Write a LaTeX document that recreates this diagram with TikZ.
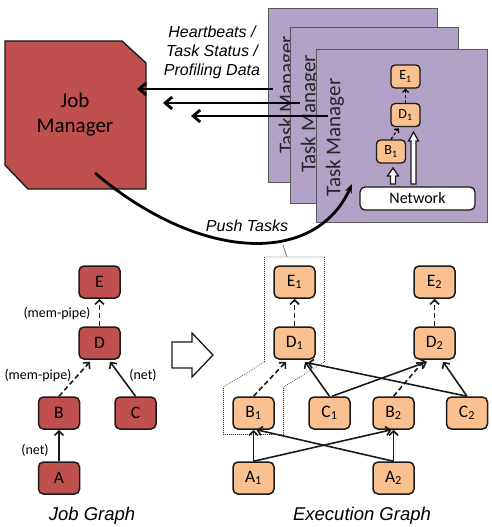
\documentclass[tikz,border=0pt]{standalone}
\usepackage{fontspec}
\setmainfont{Carlito}
\newfontfamily\hel{Liberation Sans}
\usetikzlibrary{arrows.meta,calc}
\definecolor{jred}{HTML}{C0504D}
\definecolor{eorange}{HTML}{FAC090}
\definecolor{tmpurple}{HTML}{B3A2C7}
\definecolor{edgecol}{HTML}{1A1A1A}
\begin{document}
\begin{tikzpicture}[x=1pt,y=-1pt,
  gnode/.style={draw=edgecol, fill=jred, rounded corners=5pt, minimum width=41pt, minimum height=32pt, line width=1.5pt, inner sep=0pt, font=\fontsize{17.5}{17.5}\selectfont},
  enode/.style={gnode, fill=eorange},
  mnode/.style={draw=edgecol, fill=eorange, rounded corners=4pt, minimum width=29pt, minimum height=23pt, line width=1.3pt, inner sep=0pt, font=\fontsize{14}{14}\selectfont},
  tmbox/.style={draw=black!65, fill=tmpurple, line width=0.8pt, inner sep=0pt},
  tmtext/.style={rotate=90, font=\fontsize{21}{21}\selectfont, text=black!85},
  arr/.style={-{Straight Barb[length=4.5pt,width=9pt]}, line width=1.6pt, draw=edgecol},
  darr/.style={arr, dash pattern=on 5pt off 3pt},
  hbarr/.style={-{Straight Barb[length=7pt,width=12pt]}, line width=2.8pt},
  lbl/.style={font=\fontsize{14}{14}\selectfont},
  itl/.style={font=\hel\itshape\fontsize{16}{19}\selectfont},
  captext/.style={font=\hel\itshape\fontsize{18.5}{18.5}\selectfont},
  hollow/.style={draw=edgecol, fill=white, line width=1.3pt, line join=miter}
]
\useasboundingbox (0,0) rectangle (492,527);

% ---------- Job Manager ----------
\draw[fill=jred, draw=edgecol, line width=1.4pt] (5,41) -- (122,41) -- (146,63) -- (146,189) -- (28,189) -- (5,165) -- cycle;
\node[align=center, font=\fontsize{21}{25}\selectfont] (jm) at (75,115) {Job\\Manager};

% ---------- Task Managers ----------
\node[tmbox, minimum width=169pt, minimum height=174pt] (tmA) at (352.5,95) {};
\node[tmtext] (tmAt) at (288,95) {Task Manager};
\node[tmbox, minimum width=168pt, minimum height=176pt] (tmB) at (374,115) {};
\node[tmtext] (tmBt) at (310,114) {Task Manager};
\node[tmbox, minimum width=171pt, minimum height=173pt] (tmC) at (401.5,135.5) {};
\node[tmtext] (tmCt) at (335,137.5) {Task Manager};

% inner task graph
\node[mnode] (mE) at (405.5,76.5) {E\textsubscript{1}};
\node[mnode] (mD) at (405.5,115) {D\textsubscript{1}};
\node[mnode] (mB) at (391,151.5) {B\textsubscript{1}};
\node[draw=edgecol, fill=white, rounded corners=5pt, minimum width=115pt, minimum height=23pt, line width=1.3pt, font=\fontsize{16}{16}\selectfont] (net) at (417.5,198.5) {Network};
\draw[-{Straight Barb[length=3pt,width=6pt]}, line width=1.2pt, dash pattern=on 3pt off 2pt] (mD.north) -- (mE.south);
\draw[-{Straight Barb[length=3pt,width=6pt]}, line width=1.2pt, dash pattern=on 3pt off 2pt] (mB.north) -- ($(mD.south)+(-7,1)$);
\draw[hollow] (390.5,184) -- (390.5,176) -- (387.5,176) -- (393,168) -- (398.5,176) -- (395.5,176) -- (395.5,184) -- cycle;
\draw[hollow] (411,184) -- (411,141) -- (408.5,141) -- (413.5,132) -- (418.5,141) -- (416,141) -- (416,184) -- cycle;

% ---------- Heartbeat arrows ----------
\coordinate (h1s) at (273,89); \coordinate (h1e) at (137,89);
\coordinate (h2s) at (300,103); \coordinate (h2e) at (163,103);
\coordinate (h3s) at (328,116); \coordinate (h3e) at (191,116);
\draw[hbarr] (h1s) -- (h1e);
\draw[hbarr] (h2s) -- (h2e);
\draw[hbarr] (h3s) -- (h3e);
\node[itl, align=center] (hb) at (212,52) {Heartbeats /\\Task Status /\\Profiling Data};

% ---------- Push Tasks ----------
\coordinate (ps) at (95,173);
\coordinate (pe) at (352,184);
\draw[-{Stealth[length=9pt,width=7pt]}, line width=2.8pt] (ps) .. controls (200,262) and (315,266) .. (pe);
\node[itl] (pt) at (247,226) {Push Tasks};

% ---------- Job Graph ----------
\node[gnode] (E) at (99.5,282) {E};
\node[gnode] (D) at (99.5,343) {D};
\node[gnode] (B) at (59,413) {B};
\node[gnode] (C) at (135.5,413) {C};
\node[gnode] (A) at (59,478) {A};
\draw[darr] (D.north) -- (E.south);
\draw[darr] (B.north) -- ($(D.south)+(-9.5,2)$);
\draw[arr] (C.north) -- ($(D.south)+(10.5,2)$);
\draw[arr] (A.north) -- (B.south);
\node[lbl] (l1) at (57,314) {(mem-pipe)};
\node[lbl] (l2) at (38,376) {(mem-pipe)};
\node[lbl] (l3) at (143,375) {(net)};
\node[lbl] (l4) at (35,450) {(net)};
\node[captext] (jg) at (92,516) {Job Graph};

% ---------- transform arrow ----------
\draw[hollow] (172,342) -- (192,342) -- (192,333) -- (213,355) -- (192,377) -- (192,368) -- (172,368) -- cycle;

% ---------- Execution Graph ----------
\node[enode] (E1) at (294.5,282) {E\textsubscript{1}};
\node[enode] (E2) at (434.5,282) {E\textsubscript{2}};
\node[enode] (D1) at (294.5,343) {D\textsubscript{1}};
\node[enode] (D2) at (434.5,343) {D\textsubscript{2}};
\node[enode] (B1) at (253.5,413) {B\textsubscript{1}};
\node[enode] (C1) at (329.5,413) {C\textsubscript{1}};
\node[enode] (B2) at (393.5,413) {B\textsubscript{2}};
\node[enode] (C2) at (467,413) {C\textsubscript{2}};
\node[enode] (A1) at (253.5,478) {A\textsubscript{1}};
\node[enode] (A2) at (393.5,478) {A\textsubscript{2}};
\draw[darr] (D1.north) -- (E1.south);
\draw[darr] (D2.north) -- (E2.south);
\draw[darr] (B1.north) -- ($(D1.south)+(-8.5,2)$);
\draw[arr] (C1.north) -- ($(D1.south)+(10.5,2)$);
\draw[arr] (C2.north) -- ($(D1.south)+(13,3)$);
\draw[arr] ($(C1.north)+(2.5,0)$) -- ($(D2.south)+(-7.5,2)$);
\draw[darr] (B2.north) -- ($(D2.south)+(-11.5,2)$);
\draw[arr] (C2.north) -- ($(D2.south)+(8.5,2)$);
\draw[arr] (A1.north) -- (B1.south);
\draw[arr] (A2.north) -- ($(B1.south)+(3,0)$);
\draw[arr] (A1.north) -- ($(B2.south)+(-2,0)$);
\draw[arr] (A2.north) -- (B2.south);
\node[captext] (eg) at (362,516) {Execution Graph};

% dotted group
\draw[line width=0.6pt, black!80, dash pattern=on 0.8pt off 1.2pt] (264.5,257) -- (324.5,257) -- (324.5,362) -- (283.5,387) -- (283.5,434.5) -- (223.5,434.5) -- (223.5,387) -- (264.5,362) -- cycle;
\coordinate (gtop) at (287,257);
\coordinate (cpt) at (283,245);
\draw[line width=0.5pt, black!70] (cpt) -- (gtop);
\end{tikzpicture}
\end{document}
